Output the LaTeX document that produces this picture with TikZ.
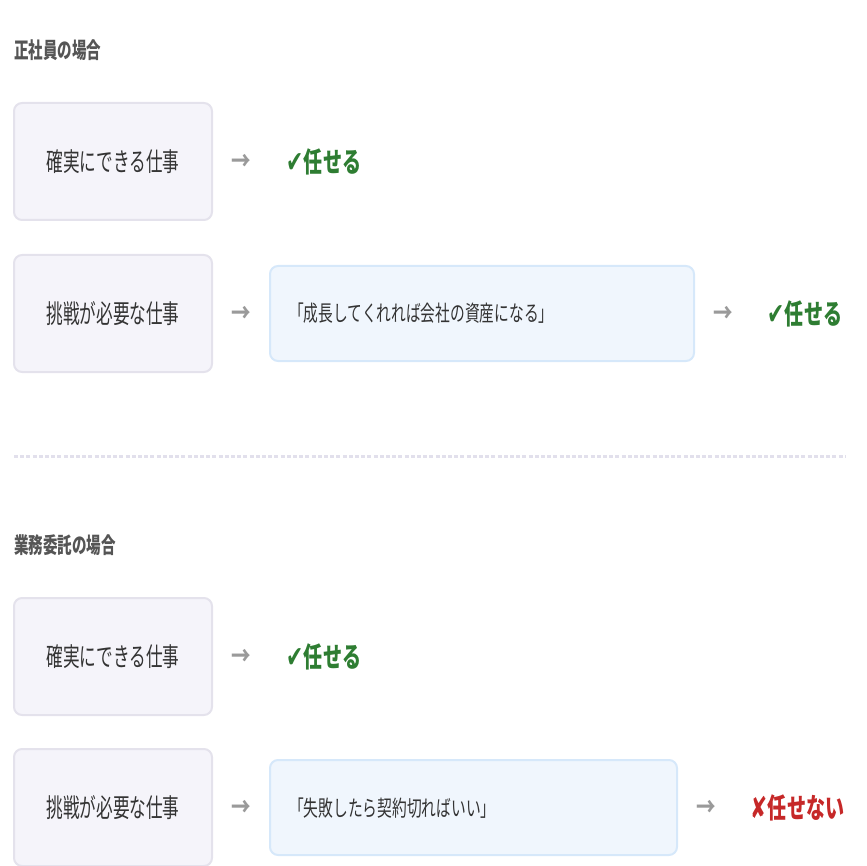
\documentclass[tikz,border=0pt]{standalone}
\usepackage{fontspec}
\setmainfont{Noto Sans CJK JP}
\newfontfamily\symfont{DejaVu Sans}
\newcommand\cx[2][0.66]{\scalebox{#1}[1]{#2}}
\definecolor{taskfill}{HTML}{F5F4FA}
\definecolor{taskline}{HTML}{E4E2EC}
\definecolor{quotefill}{HTML}{F0F6FD}
\definecolor{quoteline}{HTML}{D6E8FA}
\definecolor{arrowgray}{HTML}{9A9A9A}
\definecolor{okgreen}{HTML}{2E7D32}
\definecolor{ngred}{HTML}{C62828}
\definecolor{titlegray}{HTML}{555555}
\definecolor{textdark}{HTML}{333333}
\definecolor{divline}{HTML}{E2E0EC}
\tikzset{
  taskbox/.style={draw=taskline, fill=taskfill, line width=2pt, rounded corners=8pt},
  quotebox/.style={draw=quoteline, fill=quotefill, line width=2pt, rounded corners=8pt},
  tasktext/.style={text=textdark, font=\fontsize{26}{30}\selectfont, inner sep=0pt},
  quotetext/.style={text=textdark, font=\fontsize{22}{26}\selectfont, inner sep=0pt, anchor=west},
  sectitle/.style={text=titlegray, font=\fontsize{22}{26}\selectfont\bfseries, inner sep=0pt, anchor=west},
  arrowglyph/.style={text=arrowgray, font=\fontsize{26}{30}\selectfont\bfseries, inner sep=0pt},
  okres/.style={text=okgreen, font=\fontsize{28}{32}\selectfont\bfseries, inner sep=0pt, anchor=west},
  ngres/.style={text=ngred, font=\fontsize{28}{32}\selectfont\bfseries, inner sep=0pt, anchor=west},
}
\newcommand\okmark{{\symfont\fontsize{30}{32}\selectfont ✔}\hspace{1pt}}
\newcommand\ngmark{{\symfont\fontsize{30}{32}\selectfont ✘}\hspace{1pt}}
\begin{document}
\begin{tikzpicture}[x=1pt,y=-1pt]
\useasboundingbox (0,0) rectangle (866,866);

% section 1
\node[sectitle] (t1) at (14,50) {\cx{正社員の場合}};

\draw[taskbox] (14,103) rectangle (212,220);
\node[tasktext] (a1) at (113,161.5) {\cx[0.64]{確実にできる仕事}};
\node[arrowglyph] (r1) at (241,162) {\cx[0.75]{→}};
\node[okres] (o1) at (286,161.5) {\cx[0.68]{\okmark 任せる}};

\draw[taskbox] (14,255) rectangle (212,372);
\node[tasktext] (a2) at (113,313.5) {\cx[0.64]{挑戦が必要な仕事}};
\node[arrowglyph] (r2) at (241,314) {\cx[0.75]{→}};
\draw[quotebox] (270,266) rectangle (694,361);
\node[quotetext] (q1) at (289,313.5) {\cx[0.67]{「成長してくれれば会社の資産になる」}};
\node[arrowglyph] (r3) at (723,314) {\cx[0.75]{→}};
\node[okres] (o2) at (767,313.5) {\cx[0.68]{\okmark 任せる}};

% divider
\draw[divline, line width=3pt, dash pattern=on 4pt off 2.2pt] (14,456) -- (845,456);

% section 2
\node[sectitle] (t2) at (14,545) {\cx{業務委託の場合}};

\draw[taskbox] (14,598) rectangle (212,715);
\node[tasktext] (a3) at (113,656.5) {\cx[0.64]{確実にできる仕事}};
\node[arrowglyph] (r4) at (241,657) {\cx[0.75]{→}};
\node[okres] (o3) at (286,656.5) {\cx[0.68]{\okmark 任せる}};

\draw[taskbox] (14,749) rectangle (212,866);
\node[tasktext] (a4) at (113,808) {\cx[0.64]{挑戦が必要な仕事}};
\node[arrowglyph] (r5) at (241,808) {\cx[0.75]{→}};
\draw[quotebox] (270,760) rectangle (677,855);
\node[quotetext] (q2) at (289,808) {\cx[0.67]{「失敗したら契約切ればいい」}};
\node[arrowglyph] (r6) at (706,808) {\cx[0.75]{→}};
\node[ngres] (n1) at (750,808) {\cx[0.68]{\ngmark 任せない}};
\end{tikzpicture}
\end{document}
